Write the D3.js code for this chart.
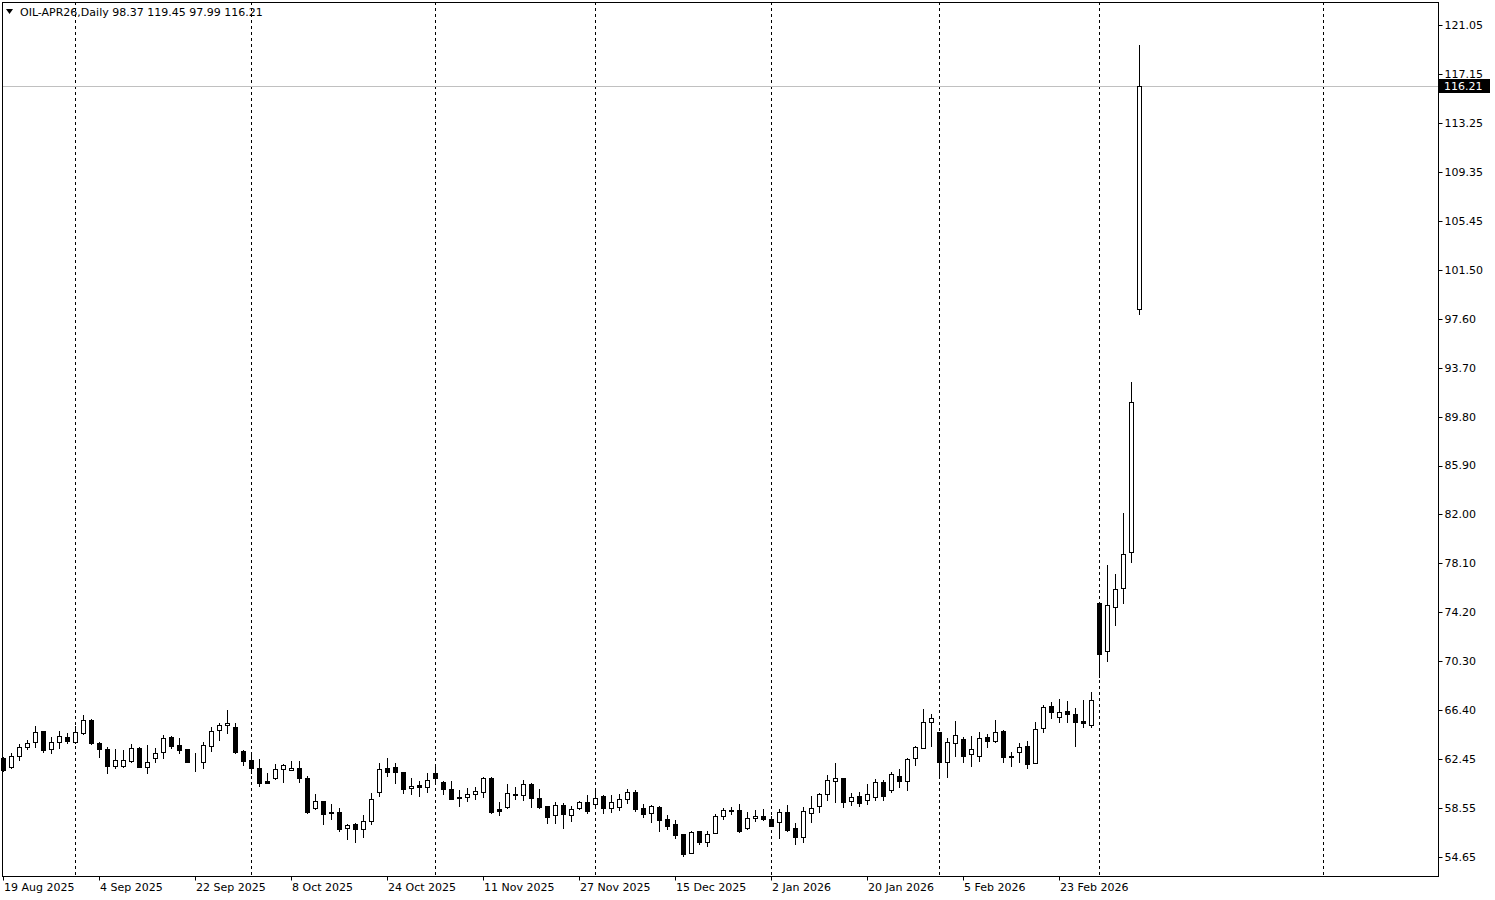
<!DOCTYPE html>
<html>
<head>
<meta charset="utf-8">
<script src="https://cdn.jsdelivr.net/npm/d3@7"></script>
<style>
  body { margin: 0; background: #fff; }
  svg text { font-family: 'DejaVu Sans', sans-serif; font-size: 11px; fill: #000; }
</style>
</head>
<body>
<svg id="main_svg" width="1495" height="900"></svg>
<script>
// daily bars, one per trading day, oldest first
const opens = [
  62.56, 61.84, 62.74, 63.41, 63.81, 64.69, 63.25, 63.81, 64.21, 63.86,
  64.58, 65.59, 63.78, 63.27, 61.92, 61.92, 62.34, 63.35, 61.86, 62.58,
  63.01, 64.21, 63.59, 63.25, 62.31, 62.26, 63.54, 64.77, 65.17, 65.01,
  63.11, 62.40, 61.73, 60.70, 60.93, 61.65, 61.57, 61.76, 60.93, 58.59,
  59.12, 58.24, 58.24, 56.94, 57.26, 56.86, 57.52, 59.86, 61.73, 61.81,
  61.41, 60.14, 60.40, 60.22, 61.36, 60.64, 60.08, 59.42, 59.42, 59.66,
  59.86, 60.93, 58.48, 58.62, 59.68, 59.58, 60.48, 59.34, 58.72, 58.00,
  58.80, 58.00, 58.54, 59.02, 58.86, 59.52, 58.54, 58.67, 59.26, 59.82,
  58.54, 58.14, 58.62, 57.66, 57.29, 56.46, 54.99, 56.73, 55.82, 56.54,
  57.92, 58.40, 58.40, 56.94, 57.74, 57.92, 57.68, 57.42, 58.27, 56.99,
  56.27, 58.14, 58.75, 59.66, 60.74, 60.93, 59.12, 59.52, 59.20, 59.44,
  60.62, 60.00, 61.12, 60.72, 62.53, 63.38, 65.45, 64.61, 62.21, 63.73,
  64.07, 62.85, 62.72, 64.21, 63.94, 64.71, 62.72, 63.01, 63.51, 62.13,
  64.93, 66.71, 65.81, 66.31, 66.05, 65.51, 65.19, 74.91, 71.12, 74.64,
  76.11, 79.03, 98.37
];
const highs = [
  62.64, 62.98, 63.67, 63.99, 65.11, 64.71, 64.21, 64.71, 64.58, 65.11,
  65.99, 65.65, 63.86, 63.46, 63.27, 63.23, 63.67, 63.41, 63.59, 63.33,
  64.39, 64.29, 64.13, 63.27, 62.93, 63.81, 65.01, 65.37, 66.39, 65.33,
  63.19, 62.93, 62.48, 61.33, 62.08, 62.08, 62.32, 62.32, 61.12, 59.68,
  59.16, 58.86, 58.54, 57.26, 57.34, 58.00, 59.78, 62.13, 62.53, 62.18,
  61.44, 60.93, 60.74, 61.33, 61.81, 60.72, 60.72, 60.00, 60.18, 60.26,
  61.06, 61.00, 59.07, 60.48, 60.22, 60.80, 60.58, 60.06, 58.76, 59.04,
  58.99, 58.72, 59.15, 59.60, 60.14, 59.60, 59.60, 59.66, 60.06, 60.00,
  58.88, 58.80, 58.72, 58.00, 57.60, 56.49, 56.73, 56.75, 56.73, 58.06,
  58.54, 58.67, 58.88, 58.27, 58.40, 58.48, 57.92, 58.48, 58.80, 57.34,
  58.67, 59.52, 59.74, 61.20, 62.18, 60.96, 59.76, 59.84, 60.48, 60.88,
  60.80, 61.44, 61.65, 62.53, 63.51, 66.47, 66.07, 64.63, 64.13, 65.51,
  64.26, 64.31, 64.61, 64.47, 65.59, 64.79, 63.06, 63.73, 63.91, 65.41,
  66.79, 67.05, 67.24, 67.11, 66.52, 67.19, 67.82, 74.99, 77.97, 77.25,
  82.09, 92.56, 119.45
];
const lows = [
  61.52, 61.78, 62.40, 63.27, 63.46, 63.01, 62.93, 63.33, 63.78, 63.73,
  64.45, 63.67, 62.66, 61.38, 61.78, 61.84, 62.26, 61.84, 61.33, 62.21,
  62.58, 63.33, 62.98, 62.21, 61.54, 61.78, 63.11, 63.99, 64.58, 62.93,
  62.00, 61.36, 60.34, 60.54, 60.88, 60.66, 61.57, 60.66, 58.19, 58.48,
  57.26, 57.68, 56.73, 56.06, 55.87, 56.27, 57.26, 59.55, 61.14, 60.58,
  59.74, 59.68, 59.55, 59.86, 60.54, 59.66, 59.26, 58.72, 59.15, 59.26,
  59.47, 58.19, 58.00, 58.59, 59.26, 59.20, 58.62, 58.54, 57.34, 57.34,
  56.99, 57.55, 58.52, 58.19, 58.80, 58.19, 58.27, 58.40, 58.99, 58.35,
  57.87, 57.47, 56.73, 56.89, 56.14, 54.75, 54.97, 55.66, 55.55, 56.53,
  57.66, 58.08, 56.62, 56.86, 57.55, 57.64, 57.13, 56.19, 56.75, 55.69,
  55.87, 57.47, 58.27, 59.20, 59.02, 58.67, 58.80, 58.72, 58.88, 59.20,
  59.20, 59.84, 60.26, 60.00, 62.00, 63.33, 63.51, 61.06, 61.01, 62.74,
  62.26, 61.94, 62.34, 63.41, 63.86, 62.21, 61.94, 62.26, 61.73, 62.12,
  64.66, 65.73, 65.41, 65.45, 63.54, 65.03, 65.03, 69.05, 70.33, 73.18,
  74.96, 78.23, 97.99
];
const closes = [
  61.60, 62.72, 63.41, 63.73, 64.66, 63.19, 63.81, 64.29, 63.94, 64.61,
  65.57, 63.73, 63.25, 61.94, 62.40, 62.37, 63.33, 61.86, 62.21, 62.93,
  64.13, 63.54, 63.19, 62.26, 62.33, 63.59, 64.74, 65.17, 65.35, 63.01,
  62.34, 61.73, 60.58, 60.58, 61.65, 62.00, 61.73, 60.93, 58.27, 59.12,
  58.06, 58.14, 56.86, 57.18, 56.86, 57.52, 59.26, 61.65, 61.41, 61.46,
  60.10, 60.32, 60.22, 60.77, 60.93, 60.10, 59.28, 59.34, 59.66, 59.92,
  60.93, 58.27, 58.35, 59.74, 59.58, 60.46, 59.34, 58.67, 57.87, 58.80,
  58.06, 58.46, 59.07, 58.35, 59.39, 58.54, 59.02, 59.26, 59.82, 58.46,
  58.08, 58.72, 57.60, 57.15, 56.41, 54.89, 56.62, 55.82, 56.46, 57.92,
  58.40, 58.30, 56.75, 57.74, 57.92, 57.66, 57.15, 58.27, 56.81, 56.27,
  58.32, 58.54, 59.66, 60.80, 60.93, 59.07, 59.44, 58.96, 59.68, 60.62,
  59.52, 61.28, 60.74, 62.45, 63.41, 65.41, 65.73, 62.21, 63.81, 64.39,
  62.74, 63.25, 64.13, 63.94, 64.66, 62.66, 62.61, 63.46, 62.08, 64.85,
  66.60, 66.25, 66.20, 66.05, 65.45, 65.35, 67.19, 70.86, 74.75, 76.03,
  78.82, 90.96, 116.21
];

// time scale labels (bar index, text) and monthly period separators
const dateLabelBars = [0, 12, 24, 36, 48, 60, 72, 84, 96, 108, 120, 132];
const dateLabels = [
  '19 Aug 2025', '4 Sep 2025', '22 Sep 2025', '8 Oct 2025', '24 Oct 2025',
  '11 Nov 2025', '27 Nov 2025', '15 Dec 2025', '2 Jan 2026', '20 Jan 2026',
  '5 Feb 2026', '23 Feb 2026'
];
const separatorBars = [9, 31, 54, 74, 96, 117, 137, 165];

// price scale labels
const priceTicks = [
  121.05, 117.15, 113.25, 109.35, 105.45, 101.50, 97.60, 93.70, 89.80,
  85.90, 82.00, 78.10, 74.20, 70.30, 66.40, 62.45, 58.55, 54.65
];

const symbolName = 'OIL-APR26,Daily';

const bars = opens.map(function(o, i) {
  return { i: i, o: o, h: highs[i], l: lows[i], c: closes[i] };
});
const last = bars[bars.length - 1];

// chart geometry
/////////////////////////////////////
const frame = { left: 2, top: 2, right: 1438, bottom: 876 };
const barStep = 8;
const firstBarX = 3;

const svg = d3.select('#main_svg');

const x = d3.scaleLinear()
  .domain([0, 1])
  .range([firstBarX, firstBarX + barStep]);

const y = d3.scaleLinear()
  .domain([54.65, 116.21])
  .range([857, 86]);

const px = function(v) { return Math.round(v) + 0.5; };

svg.append('rect')
  .attr('width', 1495)
  .attr('height', 900)
  .attr('fill', '#ffffff');

// period separators
/////////////////////////////////////
svg.append('g')
  .attr('id', 'separators')
  .selectAll('line')
  .data(separatorBars)
  .enter()
  .append('line')
  .attr('x1', function(d) { return px(x(d)); })
  .attr('x2', function(d) { return px(x(d)); })
  .attr('y1', frame.top)
  .attr('y2', frame.bottom)
  .attr('stroke', '#000')
  .attr('stroke-width', 1)
  .attr('stroke-dasharray', '3,3');

// last price line
svg.append('line')
  .attr('x1', frame.left)
  .attr('x2', frame.right)
  .attr('y1', px(y(last.c)))
  .attr('y2', px(y(last.c)))
  .attr('stroke', '#c0c0c0')
  .attr('stroke-width', 1);

// candles
/////////////////////////////////////
const candles = svg.append('g')
  .attr('id', 'candles')
  .selectAll('g')
  .data(bars)
  .enter()
  .append('g');

candles.append('line')
  .attr('x1', function(d) { return px(x(d.i)); })
  .attr('x2', function(d) { return px(x(d.i)); })
  .attr('y1', function(d) { return Math.round(y(d.h)); })
  .attr('y2', function(d) { return Math.round(y(d.l)) + 1; })
  .attr('stroke', '#000')
  .attr('stroke-width', 1);

candles.append('rect')
  .attr('x', function(d) { return Math.round(x(d.i)) - 2 + 0.5; })
  .attr('width', 4)
  .attr('y', function(d) { return px(y(Math.max(d.o, d.c))); })
  .attr('height', function(d) {
    return Math.max(0, Math.round(y(Math.min(d.o, d.c))) - Math.round(y(Math.max(d.o, d.c))));
  })
  .attr('fill', function(d) { return d.c < d.o ? '#000' : '#fff'; })
  .attr('stroke', '#000')
  .attr('stroke-width', 1);

// frame
/////////////////////////////////////
svg.append('rect')
  .attr('x', frame.left + 0.5)
  .attr('y', frame.top + 0.5)
  .attr('width', frame.right - frame.left)
  .attr('height', frame.bottom - frame.top)
  .attr('fill', 'none')
  .attr('stroke', '#000')
  .attr('stroke-width', 1);

// price axis
/////////////////////////////////////
const priceAxis = svg.append('g')
  .attr('id', 'price_axis')
  .attr('transform', 'translate(' + (frame.right + 0.5) + ',0)');

priceAxis.selectAll('line')
  .data(priceTicks)
  .enter()
  .append('line')
  .attr('x1', 0)
  .attr('x2', 4)
  .attr('y1', function(d) { return px(y(d)); })
  .attr('y2', function(d) { return px(y(d)); })
  .attr('stroke', '#000');

priceAxis.selectAll('text')
  .data(priceTicks)
  .enter()
  .append('text')
  .attr('x', 6)
  .attr('y', function(d) { return y(d); })
  .attr('dy', '0.35em')
  .text(function(d) { return d.toFixed(2); });

// current price tag
const tagY = Math.round(y(last.c));
svg.append('rect')
  .attr('x', frame.right + 1)
  .attr('y', tagY - 7)
  .attr('width', 51)
  .attr('height', 14)
  .attr('fill', '#000');

svg.append('text')
  .attr('x', frame.right + 6)
  .attr('y', tagY)
  .attr('dy', '0.35em')
  .style('fill', '#fff')
  .text(last.c.toFixed(2));

// time axis
/////////////////////////////////////
const timeAxis = svg.append('g')
  .attr('id', 'time_axis')
  .attr('transform', 'translate(0,' + (frame.bottom + 0.5) + ')');

timeAxis.selectAll('line')
  .data(dateLabelBars)
  .enter()
  .append('line')
  .attr('x1', function(d) { return px(x(d)); })
  .attr('x2', function(d) { return px(x(d)); })
  .attr('y1', 0)
  .attr('y2', 4)
  .attr('stroke', '#000');

timeAxis.selectAll('text')
  .data(dateLabelBars)
  .enter()
  .append('text')
  .attr('x', function(d) { return x(d) + 1; })
  .attr('y', 11)
  .attr('dy', '0.35em')
  .text(function(d, i) { return dateLabels[i]; });

// title
/////////////////////////////////////
svg.append('path')
  .attr('d', 'M6,9 L13,9 L9.5,14 Z')
  .attr('fill', '#000');

svg.append('text')
  .attr('x', 20)
  .attr('y', 12)
  .attr('dy', '0.35em')
  .text(symbolName + '  ' + [last.o, last.h, last.l, last.c].map(function(v) {
    return v.toFixed(2);
  }).join(' '));
</script>
</body>
</html>
